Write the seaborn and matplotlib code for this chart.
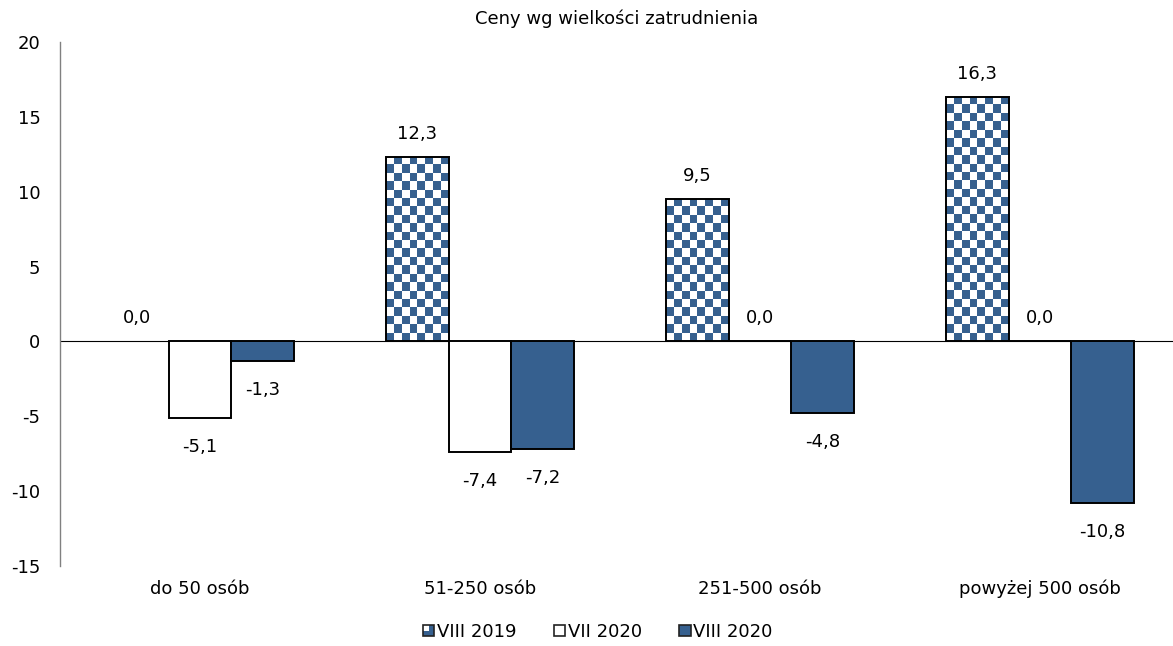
import numpy as np
import pandas as pd
import matplotlib
matplotlib.use("Agg")
import matplotlib.pyplot as plt
import seaborn as sns
from matplotlib.patches import Rectangle
from matplotlib.legend_handler import HandlerBase

categories = ["do 50 osób", "51-250 osób", "251-500 osób", "powyżej 500 osób"]
series = ["VIII 2019", "VII 2020", "VIII 2020"]
viii_2019 = [0.0, 12.3, 9.5, 16.3]
vii_2020 = [-5.1, -7.4, 0.0, 0.0]
viii_2020 = [-1.3, -7.2, -4.8, -10.8]
y_ticks = [20, 15, 10, 5, 0, -5, -10, -15]
title = "Ceny wg wielkości zatrudnienia"

BLUE = "#36608F"

df = pd.DataFrame({
    "kategoria": categories * 3,
    "seria": [s for s in series for _ in categories],
    "wartosc": viii_2019 + vii_2020 + viii_2020,
})

sns.set_style("white")
plt.rcParams["font.family"] = ["DejaVu Sans"]
plt.rcParams["text.color"] = "black"
plt.rcParams["xtick.color"] = "black"
plt.rcParams["ytick.color"] = "black"

W, H = 1173, 646
fig = plt.figure(figsize=(W / 100, H / 100), dpi=100)
ax = fig.add_axes([60 / W, 80 / H, 1120 / W, 524 / H])

sns.barplot(data=df, x="kategoria", y="wartosc", hue="seria",
            order=categories, hue_order=series,
            palette=["white", "white", BLUE], saturation=1, width=0.67,
            edgecolor="black", linewidth=1.4, legend=False, ax=ax)

ax.set_xlim(-0.5, 3.5)
ax.set_ylim(-15, 20)

# checkerboard fill for the first series, clipped to each bar
cell_px = 8.3
cmap = matplotlib.colors.ListedColormap(["white", BLUE])
for patch in ax.containers[0]:
    h = patch.get_height()
    if h == 0:
        patch.set_visible(False)
        continue
    x0, y0 = patch.get_x(), patch.get_y()
    w = patch.get_width()
    p0 = ax.transData.transform((x0, y0))
    p1 = ax.transData.transform((x0 + w, y0 + h))
    nx = max(1, int(round(abs(p1[0] - p0[0]) / cell_px)))
    ny = max(1, int(round(abs(p1[1] - p0[1]) / cell_px)))
    yy, xx = np.mgrid[0:ny, 0:nx]
    board = ((xx + yy) % 2).astype(float)
    img = ax.imshow(board, cmap=cmap, extent=(x0, x0 + w, y0, y0 + h),
                    interpolation="nearest", aspect="auto", origin="upper",
                    zorder=patch.get_zorder() - 0.05)
    img.set_clip_path(patch)
    patch.set_facecolor("none")

ax.set_xlim(-0.5, 3.5)
ax.set_ylim(-15, 20)

# value labels
label_font = dict(fontsize=13, color="black", ha="center")
for container, vals in zip(ax.containers, [viii_2019, vii_2020, viii_2020]):
    for patch, v in zip(container, vals):
        xc = patch.get_x() + patch.get_width() / 2
        txt = f"{v:.1f}".replace(".", ",")
        if v >= 0:
            ax.annotate(txt, (xc, v), xytext=(0, 17), textcoords="offset points",
                        va="center", **label_font)
        else:
            ax.annotate(txt, (xc, v), xytext=(0, -21), textcoords="offset points",
                        va="center", **label_font)

ax.axhline(0, color="black", linewidth=0.8, zorder=0.5)

for side in ["top", "right", "bottom"]:
    ax.spines[side].set_visible(False)
ax.spines["left"].set_color("#808080")
ax.spines["left"].set_linewidth(1.0)

ax.set_yticks(y_ticks)
ax.set_yticklabels([str(t) for t in y_ticks])
ax.tick_params(axis="y", length=0, pad=14, labelsize=13)
ax.tick_params(axis="x", length=0, pad=10, labelsize=13)
ax.set_xlabel("")
ax.set_ylabel("")
fig.text((W / 2 + 30) / W, 1 - 19 / H, title, fontsize=13, ha="center", va="center")


class CheckerHandler(HandlerBase):
    def create_artists(self, legend, orig_handle, xdescent, ydescent,
                       width, height, fontsize, trans):
        s = height
        x0 = -xdescent + (width - s) / 2
        y0 = -ydescent
        arts = []
        half = s / 2
        for i in range(2):
            for j in range(2):
                c = "white" if (i == 0 and j == 0) else BLUE
                r = Rectangle((x0 + j * half, y0 + (1 - i) * half), half, half,
                              facecolor=c, edgecolor="none", transform=trans)
                arts.append(r)
        frame = Rectangle((x0, y0), s, s, facecolor="none", edgecolor="#222222",
                          linewidth=1.2, transform=trans)
        arts.append(frame)
        return arts


class SquareHandler(HandlerBase):
    def create_artists(self, legend, orig_handle, xdescent, ydescent,
                       width, height, fontsize, trans):
        s = height
        x0 = -xdescent + (width - s) / 2
        r = Rectangle((x0, -ydescent), s, s, facecolor=orig_handle.get_facecolor(),
                      edgecolor="#222222", linewidth=1.2, transform=trans)
        return [r]


h1 = Rectangle((0, 0), 1, 1)
h2 = Rectangle((0, 0), 1, 1, facecolor="white")
h3 = Rectangle((0, 0), 1, 1, facecolor=BLUE)
fig.legend([h1, h2, h3], series, loc="center", bbox_to_anchor=(598 / W, 1 - 632 / H),
           ncol=3, frameon=False, fontsize=13, handlelength=0.6, handleheight=0.6,
           handletextpad=0.15, columnspacing=2.1,
           handler_map={h1: CheckerHandler(), h2: SquareHandler(), h3: SquareHandler()})

fig.savefig("out.png", dpi=100)
